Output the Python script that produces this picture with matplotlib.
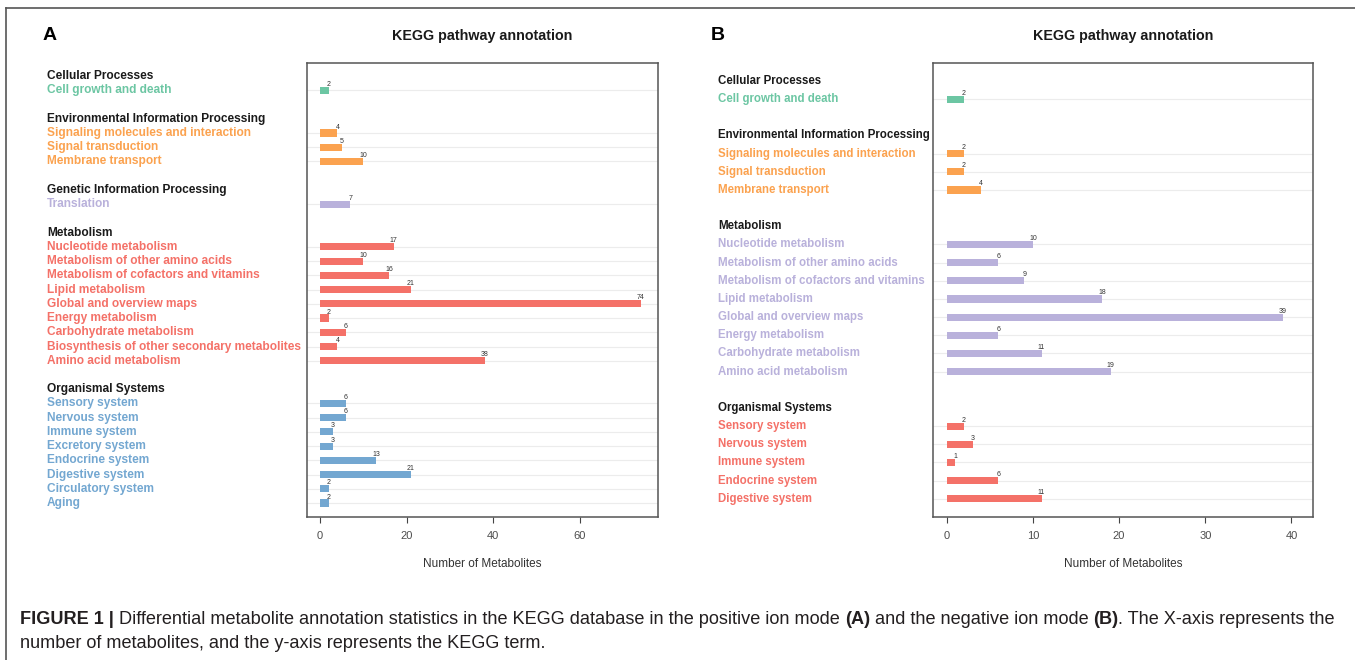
import matplotlib
matplotlib.use("Agg")
import matplotlib.pyplot as plt
from matplotlib import font_manager
from matplotlib.transforms import blended_transform_factory
from matplotlib.lines import Line2D

# ---------------- data ----------------
a_groups = ["Cellular Processes", "Environmental Information Processing",
            "Genetic Information Processing", "Metabolism", "Organismal Systems"]
a_labels = [
    ["Cell growth and death"],
    ["Signaling molecules and interaction", "Signal transduction", "Membrane transport"],
    ["Translation"],
    ["Nucleotide metabolism", "Metabolism of other amino acids",
     "Metabolism of cofactors and vitamins", "Lipid metabolism",
     "Global and overview maps", "Energy metabolism", "Carbohydrate metabolism",
     "Biosynthesis of other secondary metabolites", "Amino acid metabolism"],
    ["Sensory system", "Nervous system", "Immune system", "Excretory system",
     "Endocrine system", "Digestive system", "Circulatory system", "Aging"],
]
a_values = [
    [2],
    [4, 5, 10],
    [7],
    [17, 10, 16, 21, 74, 2, 6, 4, 38],
    [6, 6, 3, 3, 13, 21, 2, 2],
]
a_colors = ["#6CC6A3", "#FBA24F", "#B9B1DB", "#F47168", "#73A7D1"]
a_ticks = [0, 20, 40, 60]

b_groups = ["Cellular Processes", "Environmental Information Processing",
            "Metabolism", "Organismal Systems"]
b_labels = [
    ["Cell growth and death"],
    ["Signaling molecules and interaction", "Signal transduction", "Membrane transport"],
    ["Nucleotide metabolism", "Metabolism of other amino acids",
     "Metabolism of cofactors and vitamins", "Lipid metabolism",
     "Global and overview maps", "Energy metabolism", "Carbohydrate metabolism",
     "Amino acid metabolism"],
    ["Sensory system", "Nervous system", "Immune system", "Endocrine system",
     "Digestive system"],
]
b_values = [
    [2],
    [2, 2, 4],
    [10, 6, 9, 18, 39, 6, 11, 19],
    [2, 3, 1, 6, 11],
]
b_colors = ["#6CC6A3", "#FBA24F", "#B9B1DB", "#F47168"]
b_ticks = [0, 10, 20, 30, 40]

title = "KEGG pathway annotation"
xlabel = "Number of Metabolites"

# ---------------- fonts ----------------
names = {f.name for f in font_manager.fontManager.ttflist}
SANS = "Liberation Sans" if "Liberation Sans" in names else "DejaVu Sans"
NARROW = "Liberation Sans Narrow" if "Liberation Sans Narrow" in names else SANS
plt.rcParams["font.family"] = [SANS, "DejaVu Sans"]

W, H = 1355, 660
fig = plt.figure(figsize=(W / 100, H / 100), dpi=100)
fig.patch.set_facecolor("white")


def px(x0, y0, x1, y1):
    return [x0 / W, 1 - y1 / H, (x1 - x0) / W, (y1 - y0) / H]


def panel(rect, groups, labels, values, colors, ticks, xlim, ylim_pad,
          label_x, bar_h, letter, letter_x, lab_size):
    ax = fig.add_axes(px(*rect))
    slot = 0
    rows = []
    for gi, g in enumerate(groups):
        rows.append((slot, g, None, None, "black"))
        slot += 1
        for lab, v in zip(labels[gi], values[gi]):
            rows.append((slot, lab, v, colors[gi], colors[gi]))
            slot += 1
        slot += 1
    last = slot - 2
    tr = blended_transform_factory(fig.transFigure, ax.transData)
    for (s, lab, v, c, tc) in rows:
        if v is None:
            ax.text(label_x / W, s, lab, transform=tr, ha="left", va="center",
                    fontsize=lab_size, fontweight="bold", color="#1a1a1a")
        else:
            ax.axhline(s, color="#ECECEC", lw=0.8, zorder=0)
            ax.barh(s, v, height=bar_h, color=c, zorder=2)
            ax.text(v, s - bar_h * 0.35, str(v), ha="center", va="bottom",
                    fontsize=5, color="#333333", zorder=3)
            ax.text(label_x / W, s, lab, transform=tr, ha="left", va="center",
                    fontsize=lab_size, fontweight="bold", color=tc)
    ax.set_xlim(*xlim)
    ax.set_ylim(last + ylim_pad[1], -ylim_pad[0])
    ax.set_yticks([])
    ax.set_xticks(ticks)
    ax.tick_params(axis="x", length=4, width=0.8, color="#444444",
                   labelsize=8, labelcolor="#4D4D4D", pad=6)
    for sp in ax.spines.values():
        sp.set_color("#555555")
        sp.set_linewidth(1.1)
    ax.set_xlabel(xlabel, fontsize=8.5, color="#333333", labelpad=12)
    cx = (rect[0] + rect[2]) / 2
    fig.text(cx / W, 1 - 36 / H, title, ha="center", va="center",
             fontsize=10.3, fontweight="bold", color="#1a1a1a")
    fig.text(letter_x / W, 1 - 35 / H, letter, ha="center", va="center",
             fontsize=14, fontweight="bold", color="black")
    return ax


panel((307, 63, 658, 517), a_groups, a_labels, a_values, a_colors, a_ticks,
      (-3.0, 78.0), (0.92, 0.98), 47, 0.5, "A", 50, 8.6)
panel((933, 63, 1313, 517), b_groups, b_labels, b_values, b_colors, b_ticks,
      (-1.6, 42.5), (0.99, 1.0), 718, 0.4, "B", 718, 8.3)

# figure frame (top and left)
fig.add_artist(Line2D([6 / W, 1.0], [1 - 8 / H, 1 - 8 / H], transform=fig.transFigure,
                      color="#555555", lw=1.2))
fig.add_artist(Line2D([6 / W, 6 / W], [1 - 8 / H, 0.0], transform=fig.transFigure,
                      color="#555555", lw=1.2))

# ---------------- caption ----------------
line1 = [("FIGURE 1 |", "bold"),
         ("Differential metabolite annotation statistics in the KEGG database in the positive ion mode", "normal"),
         ("(A)", "bold"),
         ("and the negative ion mode", "normal"),
         ("(B)", "bold"),
         (". The X-axis represents the", "normal")]
line2 = [("number of metabolites, and the y-axis represents the KEGG term.", "normal")]
join_space = [True, True, True, True, False]

renderer = fig.canvas.get_renderer()


def width_of(s, size, weight):
    t = fig.text(0, 0, s, fontsize=size, fontweight=weight, family=[NARROW, "DejaVu Sans"])
    w = t.get_window_extent(renderer).width
    t.remove()
    return w


def line_width(segs, size):
    sp = width_of("a a", size, "normal") - width_of("aa", size, "normal")
    total = 0
    for i, (s, wgt) in enumerate(segs):
        total += width_of(s, size, wgt)
        if i < len(segs) - 1 and join_space[i]:
            total += sp
    return total


base = 10.0
w0 = line_width(line1, base)
size = base * (1338 - 20) / w0


def draw_line(segs, y, size):
    sp = width_of("a a", size, "normal") - width_of("aa", size, "normal")
    x = 20
    for i, (s, wgt) in enumerate(segs):
        t = fig.text(x / W, 1 - y / H, s, fontsize=size, fontweight=wgt,
                     family=[NARROW, "DejaVu Sans"], ha="left", va="center",
                     color="#231F20")
        x += t.get_window_extent(renderer).width
        if i < len(segs) - 1 and join_space[i]:
            x += sp


draw_line(line1, 620, size)
draw_line(line2, 643, size)

fig.savefig("out.png", dpi=100, facecolor="white")
